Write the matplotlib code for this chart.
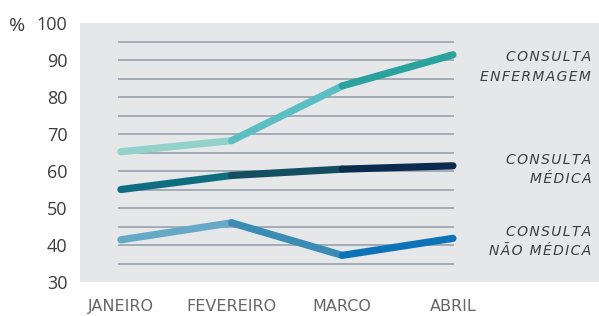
import matplotlib
matplotlib.use("Agg")
import matplotlib.pyplot as plt

months = ["JANEIRO", "FEVEREIRO", "MARCO", "ABRIL"]
enfermagem = [65.2, 68.2, 83.0, 91.4]
medica = [55.0, 58.8, 60.5, 61.4]
nao_medica = [41.4, 46.0, 37.2, 41.8]
series_labels = ["CONSULTA\nENFERMAGEM", "CONSULTA\nMÉDICA", "CONSULTA\nNÃO MÉDICA"]
yticks = [30, 40, 50, 60, 70, 80, 90, 100]
grid_vals = [35, 40, 45, 50, 55, 60, 65, 70, 75, 80, 85, 90, 95]

seg_colors = [
    ["#93D2CA", "#5BBEC3", "#2AA29D"],
    ["#0E6D80", "#134F60", "#0A2B4E"],
    ["#64AAC6", "#3A8CB4", "#0D73B8"],
]
label_y = [88.1, 60.4, 40.9]


def spaced(s):
    return "\n".join("\u200a".join(line) for line in s.split("\n"))


plt.rcParams['font.family'] = ['Open Sans', 'DejaVu Sans']
fig = plt.figure(figsize=(5.99, 3.16), dpi=100)
ax = fig.add_axes([80/599, 34/316, 519/599, 259/316])
ax.set_facecolor("#E6E7E9")
for s in ax.spines.values():
    s.set_visible(False)
ax.set_ylim(30, 100)
ax.set_xlim(-0.37, 4.32)

ax.hlines(grid_vals, -0.03, 3.01, color="#8F9BA8", lw=1.1, zorder=1)

x = list(range(len(months)))
for data, cols in zip([enfermagem, medica, nao_medica], seg_colors):
    for i in range(len(x) - 1):
        ax.plot(x[i:i+2], data[i:i+2], color=cols[i], lw=5.2,
                solid_capstyle="round", zorder=3 + i * 0.01)

for lab, yy in zip(series_labels, label_y):
    ax.text(4.25, yy, spaced(lab), ha="right", va="center", fontsize=10,
            style="italic", color="#3E3E3E", linespacing=1.5,
            family=["DejaVu Sans"])

ax.set_yticks(yticks)
ax.set_yticklabels([str(v) for v in yticks], fontsize=13, color="#3D3D3D")
ax.set_xticks(x)
ax.set_xticklabels(months, fontsize=11.5, color="#666666", family=["DejaVu Sans"])
ax.tick_params(axis="y", length=0, pad=9)
ax.tick_params(axis="x", length=0, pad=12)
fig.text(9/599, 1 - 26/316, "%", fontsize=14, color="#3D3D3D", va="center", ha="left")

fig.savefig("out.png", dpi=100)
